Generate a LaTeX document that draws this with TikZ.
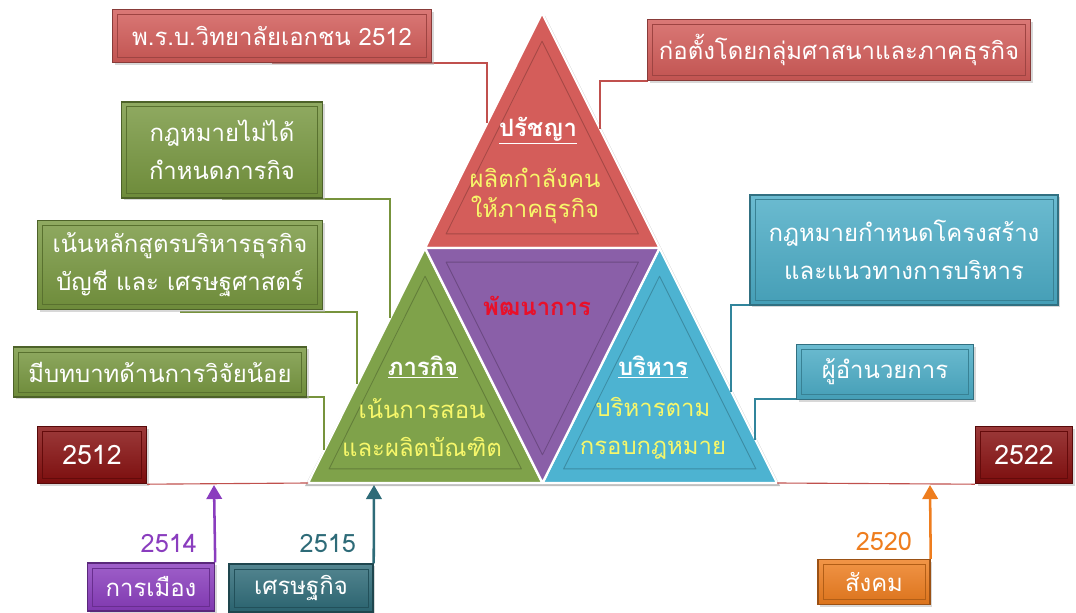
\documentclass[tikz,border=0pt]{standalone}
\usepackage{fontspec}
\setmainfont[Script=Thai]{Loma}
\usetikzlibrary{positioning,calc,shadows,arrows.meta}

\definecolor{trired}{HTML}{D45D5A}
\definecolor{trigreen}{HTML}{7FA24A}
\definecolor{triblue}{HTML}{4DB3D1}
\definecolor{tripurple}{HTML}{8A5FA8}
\definecolor{boxred}{HTML}{D25B58}
\definecolor{boxgreen}{HTML}{77973F}
\definecolor{boxblue}{HTML}{4BACC6}
\definecolor{boxyear}{HTML}{860F0F}
\definecolor{boxpol}{HTML}{8A3DBE}
\definecolor{boxeco}{HTML}{2E6B78}
\definecolor{boxsoc}{HTML}{EE7D1E}
\definecolor{linered}{HTML}{C0504D}
\definecolor{linegreen}{HTML}{77933C}
\definecolor{lineblue}{HTML}{31859C}
\definecolor{subtext}{HTML}{F7F76A}
\definecolor{devtext}{HTML}{E8102A}

\begin{document}
\begin{tikzpicture}[x=0.25mm, y=-0.25mm,
  boxsize/.style 2 args = {minimum width=#1*0.25mm, minimum height=#2*0.25mm},
  box/.style = {draw=#1!65!black, top color=#1!82!white, bottom color=#1!92!black,
    line width=1pt, text=white, align=center,
    inner sep=0pt, font=\fontsize{17}{27}\selectfont,
    drop shadow={shadow xshift=1.5pt, shadow yshift=-1.5pt, fill=black!30},
    path picture={\draw[#1!75!black, line width=0.6pt]
      ([shift={(3.5pt,-3.5pt)}]path picture bounding box.north west) rectangle
      ([shift={(-3.5pt,3.5pt)}]path picture bounding box.south east);}},
  tri/.style = {fill=#1, draw=white, line width=1.6pt, line join=round},
  inner/.style = {draw=#1!78!black, line width=0.6pt, line join=round},
  title/.style = {text=white, font=\fontsize{17}{20}\bfseries\selectfont},
  sub/.style = {text=subtext, align=center, font=\fontsize{17}{27}\selectfont},
  link/.style = {draw=#1, line width=1pt},
  rise/.style = {draw=#1, line width=1.8pt, -{Triangle[width=11pt,length=10pt]}},
  year/.style = {text=#1, font=\fontsize{18}{22}\selectfont}]

\useasboundingbox (0,0) rectangle (1076,612);

% the big triangle, split in four
\coordinate (apex) at (542,13);
\coordinate (bl) at (308,483);
\coordinate (br) at (777,483);
\coordinate (ml) at (425,248);
\coordinate (mr) at (659.5,248);
\coordinate (mb) at (542.5,483);

\fill[black!25] ([shift={(3,3)}]apex) -- ([shift={(3,3)}]br) -- ([shift={(-3,3)}]bl) -- cycle;
\foreach \a/\b/\c/\col in {apex/ml/mr/trired, ml/bl/mb/trigreen, mr/mb/br/triblue, ml/mr/mb/tripurple}{
  \draw[tri=\col] (\a) -- (\b) -- (\c) -- cycle;
  \coordinate (cen) at (barycentric cs:\a=1,\b=1,\c=1);
  \draw[inner=\col] ($(cen)!0.82!(\a)$) -- ($(cen)!0.82!(\b)$) -- ($(cen)!0.82!(\c)$) -- cycle;
}

% texts in the triangle
\node[title] (phil) at (538,131) {\underline{ปรัชญา}};
\node[sub, font=\fontsize{17}{21}\selectfont] (philtext) at (535,196) {ผลิตกำลังคน\\ให้ภาคธุรกิจ};
\node[title, text=devtext] (dev) at (537,306) {พัฒนาการ};
\node[title] (miss) at (423,367) {\underline{ภารกิจ}};
\node[sub] (misstext) at (422,428) {เน้นการสอน\\และผลิตบัณฑิต};
\node[title] (admin) at (653,367) {\underline{บริหาร}};
\node[sub] (admintext) at (653,428) {บริหารตาม\\กรอบกฎหมาย};

% points where the lines meet the triangle
\coordinate (e1) at (487,123);
\coordinate (e2) at (600,129);
\coordinate (e3) at (390,318);
\coordinate (e4) at (357,384);
\coordinate (e5) at (324,450);
\coordinate (e6) at (731,392);
\coordinate (e7) at (755,440);

% lines under the boxes
\draw[link=linered] (272,63) -| (e1);
\draw[link=linered] (648,81) -| (e2);
\draw[link=linegreen] (222,199) -| (e3);
\draw[link=linegreen] (180,312) -| (e4);
\draw[link=linegreen] (160,397) -| (e5);
\draw[link=lineblue] (904,305) -| (e6);
\draw[link=lineblue] (885,399) -| (e7);

% boxes
\node[box=boxred, boxsize={319}{53}] (law) at (272,36) {พ.ร.บ.วิทยาลัยเอกชน 2512};
\node[box=boxred, boxsize={383}{61}] (found) at (839,50) {ก่อตั้งโดยกลุ่มศาสนาและภาคธุรกิจ};
\node[box=boxgreen, boxsize={201}{96}] (nolaw) at (222,150) {กฎหมายไม่ได้\\กำหนดภารกิจ};
\node[box=boxgreen, boxsize={285}{89}] (curri) at (180,265) {เน้นหลักสูตรบริหารธุรกิจ\\บัญชี และ เศรษฐศาสตร์};
\node[box=boxgreen, boxsize={293}{50}] (research) at (160,372) {มีบทบาทด้านการวิจัยน้อย};
\node[box=boxblue, boxsize={308}{110}] (struct) at (904,250) {กฎหมายกำหนดโครงสร้าง\\และแนวทางการบริหาร};
\node[box=boxblue, boxsize={177}{55}] (director) at (885,372) {ผู้อำนวยการ};

% time line
\node[box=boxyear, boxsize={109}{57}, font=\fontsize{19}{24}\selectfont] (y2512) at (92,455) {2512};
\node[box=boxyear, boxsize={97}{57}, font=\fontsize{19}{24}\selectfont] (y2522) at (1024,455) {2522};
\draw[linered, line width=0.8pt] (y2512.south east) -- (bl);
\draw[linered, line width=0.8pt] (br) -- (y2522.south west);

\node[box=boxpol, boxsize={127}{48}] (pol) at (151,587) {การเมือง};
\node[box=boxeco, boxsize={144}{48}] (eco) at (301,588) {เศรษฐกิจ};
\node[box=boxsoc, boxsize={112}{45}] (soc) at (874,582) {สังคม};

\coordinate (t1) at (214,485);
\coordinate (t2) at (374,485);
\coordinate (t3) at (930,485);
\draw[rise=boxpol] (pol.north east) -- (t1);
\draw[rise=boxeco] (eco.north east) -- (t2);
\draw[rise=boxsoc] (soc.north east) -- (t3);

\node[year=boxpol, anchor=south east] (l2514) at (202,558) {2514};
\node[year=boxeco, anchor=south east] (l2515) at (361,558) {2515};
\node[year=boxsoc, anchor=south east] (l2520) at (917,556) {2520};

\end{tikzpicture}
\end{document}
